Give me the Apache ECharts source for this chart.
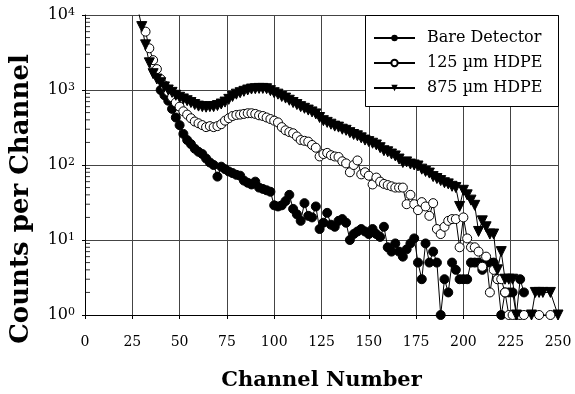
<!DOCTYPE html>
<html>
<head>
<meta charset="utf-8">
<script src="https://cdn.jsdelivr.net/npm/echarts@6/dist/echarts.min.js"></script>
<style>
html,body{margin:0;padding:0;background:#fff;}
#chart{width:575px;height:394px;}
</style>
</head>
<body>
<div id="chart"></div>
<script>
const channels = [
  28,30,32,34,36,38,40,42,44,46,
  48,50,52,54,56,58,60,62,64,66,
  68,70,72,74,76,78,80,82,84,86,
  88,90,92,94,96,98,100,102,104,106,
  108,110,112,114,116,118,120,122,124,126,
  128,130,132,134,136,138,140,142,144,146,
  148,150,152,154,156,158,160,162,164,166,
  168,170,172,174,176,178,180,182,184,186,
  188,190,192,194,196,198,200,202,204,206,
  208,210,212,214,216,218,220,222,224,226,
  228,230,232,234,236,238,240,242,244,246,
  248,250
];
const bare = [
  null,null,null,null,null,null,1000,850,720,560,
  430,340,260,215,190,165,150,140,122,108,
  100,70,95,88,82,78,74,72,62,58,
  55,60,50,48,46,44,29,28,29,33,
  40,26,22,18,31,21,20,28,14,17,
  23,16,15,18,19,17,10,12,13,14,
  13,12,14,12,11,15,8,7,9,7,
  6,7.5,9,10.5,5,3,9,5,7,5,
  1,3,2,5,4,3,3,3,5,5,
  5,4,5,5,5,3,1,2,2,2,
  1,3,2,null,null,null,null,null,null,null,
  null,null
];
const hdpe125 = [
  null,null,6000,3600,2500,1900,1400,1150,950,800,
  680,600,520,470,420,380,360,340,320,330,
  320,330,350,390,420,450,465,470,480,490,
  490,480,460,450,430,410,390,370,320,290,
  275,265,240,215,210,205,185,170,130,140,
  145,135,130,128,112,105,80,100,115,75,
  80,72,55,68,60,56,54,52,50,50,
  50,30,40,30,25,32,28,21,31,14,
  12,15,18,19,19,8,20,10.5,8,8,
  7,4.4,6,2,4,3,3,2,1,1,
  null,1,1,null,null,null,1,null,null,1,
  null,null
];
const hdpe875 = [
  12000,7000,4000,2300,1650,1400,1250,1100,1000,930,
  850,800,760,720,680,640,610,600,590,600,
  600,620,650,690,750,820,880,920,960,1000,
  1030,1040,1050,1050,1040,980,920,880,820,780,
  730,680,640,600,570,540,510,480,430,390,
  370,350,330,320,300,290,270,255,245,230,
  215,205,195,185,170,155,150,140,132,120,
  108,110,103,100,97,88,82,78,70,66,
  62,58,56,52,50,28,46,40,34,29,
  13,18,15,12,12,4,7,3,3,3,
  1,null,null,null,1,2,2,2,null,2,
  null,1
];
const seriesNames = ['Bare Detector', '125 \u00b5m HDPE', '875 \u00b5m HDPE'];
const xTicks = [0,25,50,75,100,125,150,175,200,225,250];
const yMajor = [1,10,100,1000,10000];
const yMinor = [2,3,4,5,6,7,8,9,20,30,40,50,60,70,80,90,200,300,400,500,600,700,800,900,2000,3000,4000,5000,6000,7000,8000,9000];

const SERIF = '"DejaVu Serif", serif';
function pairs(vals){ return channels.map((c,i)=>[c, vals[i]]); }

const chart = echarts.init(document.getElementById('chart'), null, {renderer:'canvas'});
const lineStyle = {color:'#000', width:1};
chart.setOption({
  animation:false,
  backgroundColor:'#fff',
  grid:{left:85, top:15, width:473, height:300, containLabel:false, outerBoundsMode:'none'},
  xAxis:{
    type:'value', min:xTicks[0], max:xTicks[xTicks.length-1], interval:25,
    name:'Channel Number', nameLocation:'middle', nameGap:55,
    nameTextStyle:{fontFamily:SERIF, fontWeight:'bold', fontSize:21, color:'#000'},
    axisLine:{show:true, onZero:false, lineStyle:{color:'#000', width:1}},
    axisTick:{show:true, length:4, lineStyle:{color:'#000'}},
    axisLabel:{fontFamily:SERIF, fontSize:14, color:'#000', margin:20},
    splitLine:{show:true, lineStyle:{color:'#444', width:1}}
  },
  yAxis:{
    type:'log', logBase:10, min:yMajor[0], max:yMajor[yMajor.length-1],
    axisLine:{show:true, lineStyle:{color:'#000', width:1}},
    axisTick:{show:true, length:3, lineStyle:{color:'#000'}},
    axisLabel:{
      margin:10, color:'#000',
      formatter:function(v){ return '{b|10}{e|' + Math.round(Math.log10(v)) + '}'; },
      rich:{
        b:{fontFamily:SERIF, fontSize:16, color:'#000'},
        e:{fontFamily:SERIF, fontSize:11, color:'#000', verticalAlign:'top', lineHeight:10}
      }
    },
    splitLine:{show:true, lineStyle:{color:'#444', width:1}}
  },
  legend:{
    data:seriesNames, orient:'vertical', left:373, top:30, padding:0,
    itemWidth:41, itemHeight:8, itemGap:9,
    textStyle:{fontFamily:SERIF, fontSize:16, color:'#000', padding:[0,0,0,7]},
    z:10
  },
  graphic:[
    {type:'rect', z:8, shape:{x:365.5, y:15.5, width:193, height:91},
     style:{fill:'#fff', stroke:'#000', lineWidth:1}},
    {type:'text', z:8, x:21, y:199, rotation:Math.PI/2,
     style:{text:'Counts per Channel', fontFamily:SERIF, fontWeight:'bold', fontSize:26,
            fill:'#000', textAlign:'center', textVerticalAlign:'middle', align:'center', verticalAlign:'middle'}}
  ],
  series:[
    {name:seriesNames[0], type:'line', data:pairs(bare), symbol:'circle', symbolSize:9,
     itemStyle:{color:'#000', borderColor:'#000'}, lineStyle:lineStyle, connectNulls:true, z:3},
    {name:seriesNames[1], type:'line', data:pairs(hdpe125), symbol:'circle', symbolSize:9,
     itemStyle:{color:'#fff', borderColor:'#000', borderWidth:1}, lineStyle:lineStyle, connectNulls:true, z:3},
    {name:seriesNames[2], type:'line', data:pairs(hdpe875), symbol:'triangle', symbolRotate:180, symbolSize:10,
     itemStyle:{color:'#000', borderColor:'#000'}, lineStyle:lineStyle, connectNulls:true, z:3},
    {name:'minorTicks', type:'scatter', data:yMinor.map(v=>[0,v]), symbol:'rect', symbolSize:[5,1],
     symbolOffset:[2.5,0], itemStyle:{color:'#000'}, silent:true, clip:false, z:4}
  ]
});
</script>
</body>
</html>
